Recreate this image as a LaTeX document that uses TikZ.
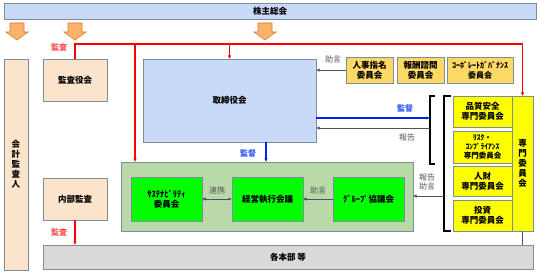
\documentclass[tikz,border=0pt]{standalone}
\usepackage{fontspec}
\setmainfont{Noto Sans CJK JP}
\usetikzlibrary{arrows.meta}
\definecolor{bluebox}{HTML}{C9DAF8}
\definecolor{peach}{HTML}{FCE4CC}
\definecolor{gold}{HTML}{FFD966}
\definecolor{yel}{HTML}{FFFF00}
\definecolor{lgreen}{HTML}{B9D9A8}
\definecolor{bgreen}{HTML}{00FF00}
\definecolor{lgray}{HTML}{D9D9D9}
\definecolor{bord}{HTML}{7F8C99}
\definecolor{orng}{HTML}{F9B36B}
\definecolor{orngd}{HTML}{E07B2A}
\definecolor{arrc}{HTML}{44546A}
\definecolor{redl}{HTML}{FF0000}
\definecolor{redt}{HTML}{FF5050}
\definecolor{bluel}{HTML}{0022FF}
\definecolor{bluet}{HTML}{3355FF}
\definecolor{grayt}{HTML}{595959}
\begin{document}
\begin{tikzpicture}[x=1pt,y=-1pt,
  box/.style={draw=bord, line width=0.8pt, inner sep=0pt, outer sep=0pt, align=center,
    font=\fontsize{8.5}{10}\selectfont\bfseries},
  redline/.style={color=redl, line width=1.3pt},
  blueline/.style={color=bluel, line width=1.3pt},
  grayline/.style={color=arrc, line width=0.9pt},
  tip/.style={-{Latex[length=3.5pt,width=3.5pt]}},
  dtip/.style={{Latex[length=3.5pt,width=3.5pt]}-{Latex[length=3.5pt,width=3.5pt]}},
  lbl/.style={inner sep=0pt, font=\fontsize{8}{9.5}\selectfont, align=center},
  blbl/.style={inner sep=0pt, font=\fontsize{8}{9.5}\selectfont\bfseries, align=center},
  bracketline/.style={draw=black, line width=1.2pt},
  bigarrow/.style={fill=orng, draw=orngd, line width=0.6pt, line join=miter}
]
\useasboundingbox (0,0) rectangle (540,275);

% boxes
\node[box, fill=bluebox, minimum width=532pt, minimum height=16pt] (top) at (270,11) {株主総会};
\node[box, fill=peach, minimum width=24pt, minimum height=211pt] (kaikei) at (16,164.5) {会\\計\\監\\査\\人};
\node[box, fill=peach, minimum width=64pt, minimum height=42pt] (kansayaku) at (75,80) {監査役会};
\node[box, fill=bluebox, minimum width=173pt, minimum height=83pt] (tori) at (229.5,100.5) {取締役会};
\node[box, fill=gold, minimum width=47pt, minimum height=26pt] (jinji) at (369.5,70) {人事指名\\委員会};
\node[box, fill=gold, minimum width=47pt, minimum height=26pt] (houshu) at (420.5,70) {報酬諮問\\委員会};
\node[box, fill=gold, minimum width=66pt, minimum height=26pt, font=\fontsize{8}{10}\selectfont\bfseries] (cg) at (480,70) {ｺｰﾎﾟﾚｰﾄｶﾞﾊﾞﾅﾝｽ\\委員会};
\node[box, fill=yel, minimum width=59pt, minimum height=31pt] (hinshitsu) at (482.5,111.5) {品質安全\\専門委員会};
\node[box, fill=yel, minimum width=59pt, minimum height=32pt, font=\fontsize{7.5}{9}\selectfont\bfseries] (risk) at (482.5,147) {ﾘｽｸ・\\ｺﾝﾌﾟﾗｲｱﾝｽ\\専門委員会};
\node[box, fill=yel, minimum width=59pt, minimum height=30pt] (jinzai) at (482.5,181) {人財\\専門委員会};
\node[box, fill=yel, minimum width=59pt, minimum height=31pt] (toushi) at (482.5,215.5) {投資\\専門委員会};
\node[box, fill=yel, minimum width=21pt, minimum height=135pt] (senmon) at (522.5,163.5) {専\\門\\委\\員\\会};
\node[box, fill=lgreen, minimum width=292pt, minimum height=69pt] (gbox) at (267,196.5) {};
\node[box, fill=bgreen, minimum width=71pt, minimum height=44pt] (sust) at (166.5,199) {ｻｽﾃﾅﾋﾞﾘﾃｨ\\委員会};
\node[box, fill=bgreen, minimum width=71pt, minimum height=44pt] (keiei) at (267.5,199) {経営執行会議};
\node[box, fill=bgreen, minimum width=71pt, minimum height=44pt] (group) at (368.5,199) {ｸﾞﾙｰﾌﾟ協議会};
\node[box, fill=peach, minimum width=64pt, minimum height=42pt] (naibu) at (75,199) {内部監査};
\node[box, fill=lgray, minimum width=490pt, minimum height=24pt] (kaku) at (288,257) {各本部 等};

% big orange arrows
\foreach \cx in {17,75,265}{
  \draw[bigarrow] (\cx-7,23) -- (\cx+7,23) -- (\cx+7,32) -- (\cx+11,32) -- (\cx,40) -- (\cx-11,32) -- (\cx-7,32) -- cycle;
}

% coordinates
\coordinate (rl) at (75,44);
\coordinate (rr) at (522.5,44);
\coordinate (r2) at (135,44);
\coordinate (r3) at (229.5,44);
\coordinate (b1k) at (430,118);
\coordinate (b1h) at (430,128);
\coordinate (b2) at (444,196);
\coordinate (kd) at (266,142);

% brackets
\draw[bracketline] (435,96) -- (430,96) -- (430,164) -- (435,164);
\draw[bracketline] (451,96) -- (444,96) -- (444,231) -- (451,231);

% red lines
\draw[redline, tip] (kansayaku.north) -- (rl) -- (rr) -- (senmon.north);
\draw[redline, tip] (r2) -- (r2 |- gbox.north);
\draw[redline, tip] (r3) -- (tori.north);
\draw[redline, tip] (naibu.south) -- (naibu.south |- kaku.north);

% blue lines
\draw[blueline, tip] (tori.east |- b1k) -- (b1k);
\draw[blueline, tip] (kd) -- (kd |- gbox.north);

% gray lines
\draw[grayline, tip] (b1h) -- (tori.east |- b1h);
\draw[grayline, tip] (jinji.west) -- (tori.east |- jinji.west);
\draw[grayline, dtip] (sust.east) -- (keiei.west);
\draw[grayline, tip] (group.west) -- (keiei.east);
\draw[grayline, tip] (b2) -- (gbox.east |- b2);
\draw[grayline] (senmon.south) -- (senmon.south |- kaku.north);

% labels
\node[blbl, text=redt] (l1) at (59,47) {監査};
\node[blbl, text=redt] (l2) at (59,232) {監査};
\node[lbl, text=grayt] (l3) at (333,59) {助言};
\node[blbl, text=bluet] (l4) at (405,108) {監督};
\node[lbl, text=grayt] (l5) at (407,137) {報告};
\node[blbl, text=bluet] (l6) at (248,153) {監督};
\node[lbl, text=grayt] (l7) at (217,190) {連携};
\node[lbl, text=grayt] (l8) at (318,190) {助言};
\node[lbl, text=grayt] (l9) at (427,182) {報告\\助言};
\end{tikzpicture}
\end{document}
